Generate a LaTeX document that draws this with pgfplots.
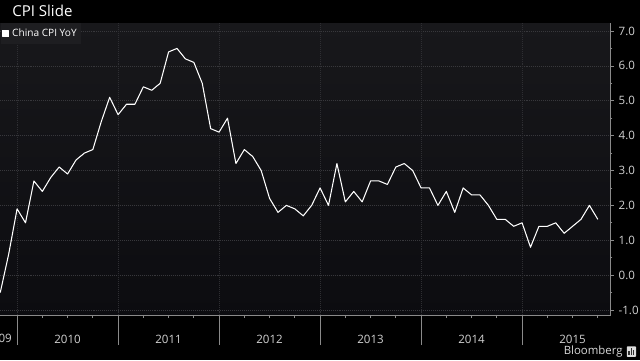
\documentclass[border=0pt]{standalone}
\usepackage{pgfplots}
\pgfplotsset{compat=1.18}
\usepackage{fontspec}
\setmainfont{Open Sans}
\setsansfont{Open Sans}
\definecolor{panelTop}{HTML}{18181B}
\definecolor{panelBot}{HTML}{0C0C10}
\definecolor{legbg}{HTML}{1E1E21}
\definecolor{gridc}{HTML}{38383C}
\definecolor{vgridc}{HTML}{2E2E32}
\definecolor{axisc}{HTML}{8A8A8A}
\definecolor{labc}{HTML}{D2D2D2}
\pgfplotstableread{
m v
-2 -0.5
-1 0.6
0 1.9
1 1.5
2 2.7
3 2.4
4 2.8
5 3.1
6 2.9
7 3.3
8 3.5
9 3.6
10 4.4
11 5.1
12 4.6
13 4.9
14 4.9
15 5.4
16 5.3
17 5.5
18 6.4
19 6.5
20 6.2
21 6.1
22 5.5
23 4.2
24 4.1
25 4.5
26 3.2
27 3.6
28 3.4
29 3.0
30 2.2
31 1.8
32 2.0
33 1.9
34 1.7
35 2.0
36 2.5
37 2.0
38 3.2
39 2.1
40 2.4
41 2.1
42 2.7
43 2.7
44 2.6
45 3.1
46 3.2
47 3.0
48 2.5
49 2.5
50 2.0
51 2.4
52 1.8
53 2.5
54 2.3
55 2.3
56 2.0
57 1.6
58 1.6
59 1.4
60 1.5
61 0.8
62 1.4
63 1.4
64 1.5
65 1.2
66 1.4
67 1.6
68 2.0
69 1.6
}\cpidata
\begin{document}
\begin{tikzpicture}
\useasboundingbox (0,0) rectangle (16cm,9cm);
\fill[black] (0,0) rectangle (16cm,9cm);
\node[anchor=west, inner sep=0pt, text=white, font=\fontsize{10.7}{12}\selectfont] at (0.3cm,8.72cm) {CPI Slide};
\begin{axis}[
  at={(0cm,1.125cm)}, anchor=south west, scale only axis,
  width=15.2675cm, height=7.3cm,
  xmin=-2.03, xmax=70.53, ymin=-1.143, ymax=7.229,
  axis background/.style={top color=panelTop, bottom color=panelBot},
  axis x line*=bottom, axis y line*=right,
  axis line style={draw=axisc, -, line width=0.6pt},
  tick align=outside,
  major tick length=0.075cm, minor tick length=0.04cm,
  tick style={draw=axisc, line width=0.5pt},
  ytick={-1,0,...,7}, minor y tick num=1,
  yticklabel style={/pgf/number format/.cd, fixed, fixed zerofill, precision=1, /tikz/.cd, text=labc, font=\fontsize{8.2}{10}\selectfont},
  /pgf/number format/assume math mode=true,
  ymajorgrids,
  major grid style={draw=gridc, densely dotted, line width=0.5pt},
  xtick={3,6,9,15,18,21,27,30,33,39,42,45,51,54,57,63,66,69},
  xticklabels={,2010,,,2011,,,2012,,,2013,,,2014,,,2015,},
  xticklabel style={text=labc, font=\fontsize{8.2}{10}\selectfont},
  xticklabel shift=0.3cm,
  extra x ticks={0,12,24,36,48,60},
  extra x tick labels={},
  extra x tick style={major tick length=0.75cm, grid=major,
    major grid style={draw=vgridc, line width=0.5pt},
    tick style={draw=axisc, line width=0.5pt}},
  legend style={at={(0.001,1)}, anchor=north west, fill=legbg, draw=none, text=white,
    font=\fontsize{7.2}{9}\selectfont, inner xsep=1pt, inner ysep=2pt,
    legend cell align=left},
  legend image code/.code={\fill[white] (0.05cm,-0.075cm) rectangle (0.2cm,0.075cm);},
  clip=true,
]
\addplot[color=white, line width=0.75pt, line join=round] table[x=m, y=v] {\cpidata};
\addlegendentry{China CPI YoY}
\end{axis}
\node[anchor=east, inner sep=0pt, text=labc, font=\fontsize{8.2}{10}\selectfont] at (0.3cm,0.55cm) {09};
\node[anchor=east, inner sep=0pt, text=labc!85, font=\fontsize{8.1}{10}\selectfont] at (15.57cm,0.2cm) {Bloomberg};
\fill[labc!75, rounded corners=0.5pt] (15.67cm,0.08cm) rectangle (15.9cm,0.34cm);
\fill[black!80] (15.71cm,0.12cm) rectangle (15.74cm,0.22cm);
\fill[black!80] (15.765cm,0.12cm) rectangle (15.795cm,0.29cm);
\fill[black!80] (15.82cm,0.12cm) rectangle (15.85cm,0.25cm);
\end{tikzpicture}
\end{document}
